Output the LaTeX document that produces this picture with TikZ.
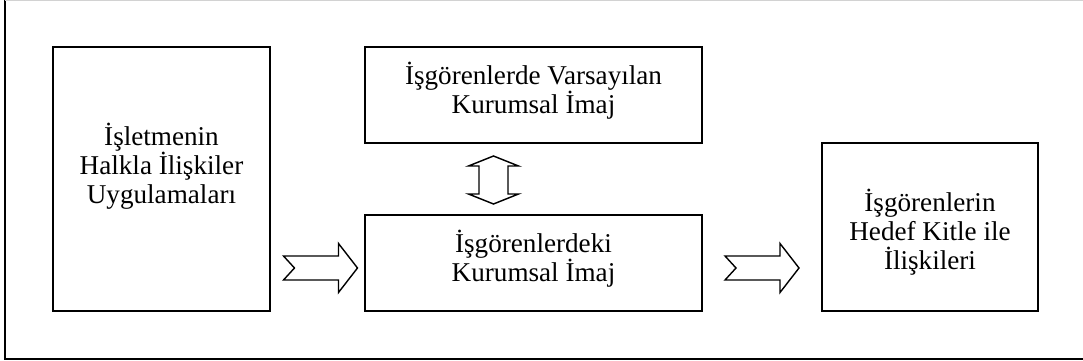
\documentclass[tikz,border=0pt]{standalone}
\usepackage{fontspec}
\setmainfont{Liberation Serif}
\usetikzlibrary{calc}

\tikzset{
  kutu/.style={draw, rectangle, line width=1.3pt, inner sep=0pt},
  yazi/.style={align=center, inner sep=0pt, font=\fontsize{19.3}{20.6}\selectfont},
  blok/.style={draw, line width=1pt, fill=white, line join=miter},
  % notched block arrow pointing right
  pics/ileriok/.style={code={
    \draw[blok] (-37,12) -- (18,12) -- (18,24.5) -- (37,0) -- (18,-24.5)
      -- (18,-12) -- (-37,-12) -- (-26,0) -- cycle;
  }},
  % up-down block arrow
  pics/ciftok/.style={code={
    \draw[blok] (-14.5,14) -- (-25,14) -- (0,24) -- (25,14) -- (14.5,14)
      -- (14.5,-14) -- (25,-14) -- (0,-24) -- (-25,-14) -- (-14.5,-14) -- cycle;
  }}
}

\begin{document}
\begin{tikzpicture}[x=0.025cm, y=0.025cm]
    \clip (0,0) rectangle (1083,361);

    % Frame
    \draw[line width=1.1pt] (5,361.5) -- (5,2) -- (1100,2);
    \draw[gray!35, line width=0.8pt] (5,360.6) -- (1100,360.6);

    % Boxes
    \node[kutu, minimum width=5.425cm, minimum height=6.6cm] (uygulama) at (161.5,182) {};
    \node[kutu, minimum width=8.425cm, minimum height=2.4cm] (varsayilan) at (533.5,266) {};
    \node[kutu, minimum width=8.425cm, minimum height=2.4cm] (imaj) at (533.5,98) {};
    \node[kutu, minimum width=5.4cm, minimum height=4.2cm] (iliski) at (930,134) {};

    % Texts
    \node[yazi] (uygulamayazi) at ($(uygulama)+(0,13)$) {İşletmenin\\Halkla İlişkiler\\Uygulamaları};
    \node[yazi] (varsayilanyazi) at ($(varsayilan)+(0,4)$) {İşgörenlerde Varsayılan\\Kurumsal İmaj};
    \node[yazi] (imajyazi) at ($(imaj)+(0,4)$) {İşgörenlerdeki\\Kurumsal İmaj};
    \node[yazi] (iliskiyazi) at ($(iliski)+(0,-5)$) {İşgörenlerin\\Hedef Kitle ile\\İlişkileri};

    % Block arrows between the boxes
    \pic at ($(uygulama.east |- imaj.center)!.5!(imaj.west) + (3,-5)$) {ileriok};
    \pic at ($(imaj.east)!.5!(iliski.west |- imaj.center) + (0,-5)$) {ileriok};
    \pic at ($(varsayilan.south)!.5!(imaj.north) + (-40,-1)$) {ciftok};
\end{tikzpicture}
\end{document}
